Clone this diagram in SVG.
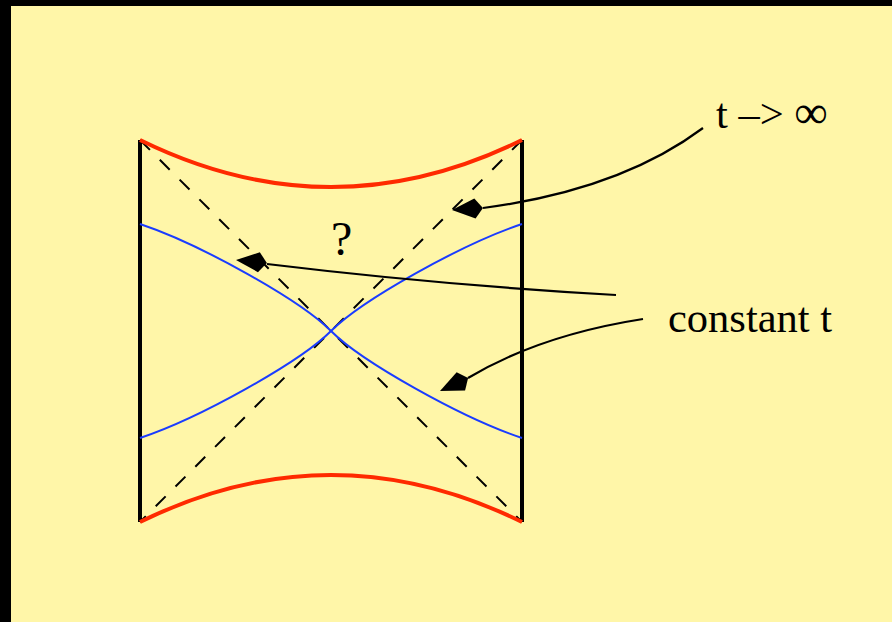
<svg xmlns="http://www.w3.org/2000/svg" width="892" height="622" viewBox="0 0 892 622">
<defs>
<style>
.edge{fill:none;stroke:#000;stroke-width:4}
.red{fill:none;stroke:#FF2A00;stroke-width:4}
.blue{fill:none;stroke:#1A3CFF;stroke-width:2}
.dash{fill:none;stroke:#000;stroke-width:2;stroke-dasharray:14 14}
.conn{fill:none;stroke:#000;stroke-width:2.2}
.ah{fill:#000}
.lbl{font-family:"Liberation Serif","Times New Roman",serif;font-size:42.5px;fill:#000}
</style>
<path id="head" d="M0,0 L-23,-10 L-31,0 L-23,10 Z"/>
</defs>
<rect x="0" y="0" width="892" height="622" fill="#000"/>
<rect x="11" y="6" width="881" height="616" fill="#FFF6A8"/>
<g id="diagram">
<line class="edge" x1="140" y1="140" x2="140" y2="522"/>
<line class="edge" x1="522" y1="140" x2="522" y2="522"/>
<line class="dash" x1="140" y1="140" x2="522" y2="522"/>
<line class="dash" x1="522" y1="140" x2="140" y2="522"/>
<path class="blue" d="M140,224 C200,244 300,300 331,331 C362,362 462,418 522,438"/>
<path class="blue" d="M140,438 C200,418 300,362 331,331 C362,300 462,244 522,224"/>
<path class="red" d="M140,140 Q331,234 522,140"/>
<path class="red" d="M140,522 Q331,428 522,522"/>
</g>
<g id="connectors">
<path class="conn" d="M703,128 Q620,190 483,208"/>
<use href="#head" class="ah" transform="translate(452,210) rotate(176.3)"/>
<path class="conn" d="M616,295 Q440,285 267,264"/>
<use href="#head" class="ah" transform="translate(236,260) rotate(185.5)"/>
<path class="conn" d="M643,319 Q540,335 468,378"/>
<use href="#head" class="ah" transform="translate(440,391) rotate(155.1)"/>
</g>
<g id="labels">
<text class="lbl" x="716" y="128">t –&gt; <tspan font-size="47">∞</tspan></text>
<text class="lbl" x="668" y="332">constant t</text>
<text class="lbl" x="331" y="255" style="font-size:48px">?</text>
</g>
</svg>
